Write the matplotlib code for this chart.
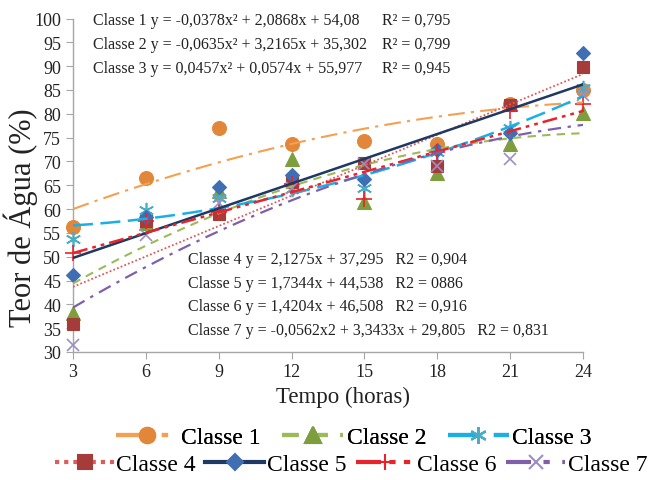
import matplotlib
matplotlib.use('Agg')
import matplotlib.pyplot as plt
import numpy as np
from matplotlib.lines import Line2D

plt.rcParams['font.family'] = ['Liberation Serif', 'DejaVu Serif']

hours = [3, 6, 9, 12, 15, 18, 21, 24]
classe1 = [56.2, 66.5, 77.1, 73.7, 74.3, 73.6, 82.0, 85.0]
classe2 = [38.2, 57.0, 63.8, 70.6, 61.4, 67.5, 73.6, 80.1]
classe3 = [53.8, 59.8, 62.4, 64.2, 64.4, 72.0, 77.1, 85.5]
classe4 = [35.8, 57.4, 58.9, 65.6, 69.6, 69.1, 81.9, 89.9]
classe5 = [46.1, 58.4, 64.7, 67.1, 66.4, 72.4, 75.9, 92.8]
classe6 = [50.8, 57.5, 59.3, 65.3, 62.1, 72.0, 80.6, 82.0]
classe7 = [31.5, 54.6, 61.2, 64.5, 69.4, 69.0, 70.6, 84.0]
series_names = ['Classe 1', 'Classe 2', 'Classe 3', 'Classe 4', 'Classe 5', 'Classe 6', 'Classe 7']

# trend equation coefficients (a x^2 + b x + c) as displayed
trend_coefs = [
    (-0.0378, 2.0868, 54.08),
    (-0.0635, 3.2165, 35.302),
    (0.0457, 0.0574, 55.977),
    (0.0, 2.1275, 37.295),
    (0.0, 1.7344, 44.538),
    (0.0, 1.4204, 46.508),
    (-0.0562, 3.3433, 29.805),
]

top_eqs = ['Classe 1 y = -0,0378x² + 2,0868x + 54,08',
           'Classe 2 y = -0,0635x² + 3,2165x + 35,302',
           'Classe 3 y = 0,0457x² + 0,0574x + 55,977']
top_r2 = ['R² = 0,795', 'R² = 0,799', 'R² = 0,945']
low_eqs = ['Classe 4 y = 2,1275x + 37,295   R2 = 0,904',
           'Classe 5 y = 1,7344x + 44,538   R2 = 0886',
           'Classe 6 y = 1,4204x + 46,508   R2 = 0,916',
           'Classe 7 y = -0,0562x2 + 3,3433x + 29,805   R2 = 0,831']

data = [classe1, classe2, classe3, classe4, classe5, classe6, classe7]
markers = ['o', '^', (6, 2, 0), 's', 'D', '+', 'x']
msizes = [10, 10, 11, 9, 7.5, 11, 9]
mcolors = ['#E2873A', '#7E9E3E', '#4BACC6', '#A63C3A', '#3F6FB2', '#E8232A', '#9D8EC4']
lcolors = ['#F5A050', '#9BBB59', '#1AAFE6', '#E05A5A', '#1F3864', '#E8232A', '#7F5FAA']
lstyles = [(0, (8, 3, 1.5, 3)), (0, (4, 3)), (0, (8, 3)), (0, (1, 1.2)), '-',
           (0, (6, 2, 1.5, 2, 1.5, 2)), (0, (6, 3, 1.5, 3))]
lwidths = [1.5, 1.5, 1.8, 1.3, 1.8, 1.8, 1.6]

W, H = 662, 481
fig = plt.figure(figsize=(W / 100, H / 100), dpi=100)
ax = fig.add_axes([73 / W, 1 - 353 / H, (583 - 73) / W, (353 - 19.5) / H])

xs = np.linspace(3, 24, 200)
for i, vals in enumerate(data):
    ax.plot(hours, vals, linestyle='none', marker=markers[i], markersize=msizes[i],
            color=mcolors[i], markeredgecolor=mcolors[i],
            markeredgewidth=1.2 if markers[i] in ('+', 'x') or isinstance(markers[i], tuple) else 0.8,
            zorder=3, clip_on=False)
for i, (a, b, c) in enumerate(trend_coefs):
    ax.plot(xs, a * xs ** 2 + b * xs + c, linestyle=lstyles[i], color=lcolors[i],
            linewidth=lwidths[i], zorder=4)

ax.set_xlim(3, 24)
ax.set_ylim(30, 100)
ax.set_xticks(hours)
ax.set_yticks(np.arange(30, 101, 5))
for s in ['top', 'right']:
    ax.spines[s].set_visible(False)
for s in ['left', 'bottom']:
    ax.spines[s].set_color('#A6A6A6')
    ax.spines[s].set_linewidth(1.0)
ax.tick_params(axis='both', direction='out', length=5, color='#A6A6A6', labelsize=13,
               labelcolor='#222222')
ax.tick_params(axis='x', pad=3)
fig.text(343 / W, 1 - 397 / H, 'Tempo (horas)', fontsize=16.5, ha='center', va='center',
         color='#222222')
fig.text(21 / W, 1 - 218 / H, 'Teor de Água (%)', fontsize=22, rotation=90,
         ha='center', va='center', color='#222222')

# annotations
for k, (eq, r2) in enumerate(zip(top_eqs, top_r2)):
    y = 1 - (21 + 24 * k) / H
    fig.text(93 / W, y, eq, fontsize=11.5, va='center', ha='left', color='#222222')
    fig.text(382 / W, y, r2, fontsize=11.5, va='center', ha='left', color='#222222')
for k, eq in enumerate(low_eqs):
    y = 1 - (260 + 23.7 * k) / H
    fig.text(188 / W, y, eq, fontsize=11.5, va='center', ha='left', color='#222222')

# legend in two rows
handles = [Line2D([], [], color=lcolors[i], linestyle=lstyles[i], linewidth=3,
                  marker=markers[i], markersize=msizes[i] + 1, markerfacecolor=mcolors[i],
                  markeredgecolor=mcolors[i], markeredgewidth=1.5)
           for i in range(7)]
leg1 = fig.legend(handles[:3], series_names[:3], loc='center', bbox_to_anchor=(354 / W, 1 - 438 / H),
                  ncol=3, frameon=False, fontsize=17, handlelength=2.6, handletextpad=0.15,
                  columnspacing=0.9, borderpad=0)
fig.add_artist(leg1)
fig.legend(handles[3:], series_names[3:], loc='center', bbox_to_anchor=(351 / W, 1 - 465 / H),
           ncol=4, frameon=False, fontsize=17, handlelength=2.5, handletextpad=0.1,
           columnspacing=0.4, borderpad=0)

fig.savefig('out.png', dpi=100)
